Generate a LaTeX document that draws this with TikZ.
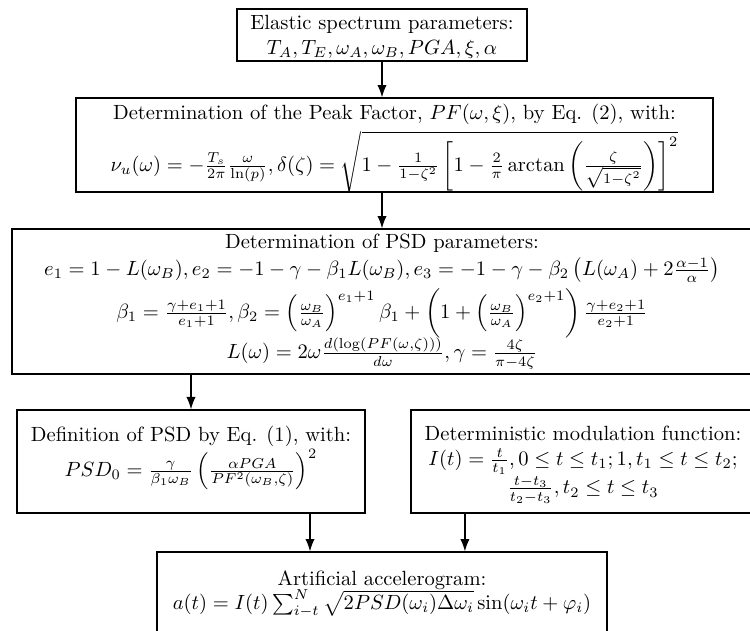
\documentclass[tikz,border=0pt]{standalone}
\usepackage{amsmath,amssymb}
\usetikzlibrary{positioning,arrows.meta}

\begin{document}
\begin{tikzpicture}[>={Latex[length=6pt,width=4.5pt]}, x=0.486pt, y=-0.486pt,
    stage/.style={draw, semithick, inner sep=0pt},
    stagetxt/.style={align=center, inner sep=0pt}]
  \clip (0,0) rectangle (750,630);
  \node[stage, minimum width=140.9pt, minimum height=25.3pt] (elastic) at (382,35) {};
  \node[stagetxt, yshift=-1pt] (elastictxt) at (elastic) {Elastic spectrum parameters:\\ $T_A, T_E, \omega_A, \omega_B, PGA, \xi, \alpha$};
  \node[stage, minimum width=309.6pt, minimum height=45.7pt] (peak) at (394.5,145) {};
  \node[stagetxt, yshift=-2pt] (peaktxt) at (peak) {Determination of the Peak Factor, $PF(\omega,\xi)$, by Eq. (2), with:\\[2pt]
    $\nu_u(\omega) = -\frac{T_s}{2\pi}\frac{\omega}{\ln(p)}, \delta(\zeta) = \sqrt{1-\frac{1}{1-\zeta^2}\left[1-\frac{2}{\pi}\arctan\left(\frac{\zeta}{\sqrt{1-\zeta^2}}\right)\right]^2}$};
  \node[stage, minimum width=359.6pt, minimum height=70.5pt] (psdpar) at (382,301.5) {};
  \node[stagetxt, yshift=0pt] (psdpartxt) at (psdpar) {Determination of PSD parameters:\\[1pt]
    $e_1 = 1-L(\omega_B), e_2 = -1-\gamma-\beta_1 L(\omega_B), e_3 = -1-\gamma-\beta_2\left(L(\omega_A)+2\frac{\alpha-1}{\alpha}\right)$\\[2pt]
    $\beta_1 = \frac{\gamma+e_1+1}{e_1+1}, \beta_2 = \left(\frac{\omega_B}{\omega_A}\right)^{e_1+1}\beta_1 + \left(1+\left(\frac{\omega_B}{\omega_A}\right)^{e_2+1}\right)\frac{\gamma+e_2+1}{e_2+1}$\\[-1pt]
    $L(\omega) = 2\omega\frac{d(\log(PF(\omega,\zeta)))}{d\omega}, \gamma = \frac{4\zeta}{\pi-4\zeta}$};
  \node[stage, minimum width=169.1pt, minimum height=50.1pt] (psddef) at (191,461.5) {};
  \node[stagetxt, below=8pt of psddef.north] (psddeftxt) {Definition of PSD by Eq. (1), with:\\
    $PSD_0 = \frac{\gamma}{\beta_1\omega_B}\left(\frac{\alpha PGA}{PF^2(\omega_B,\zeta)}\right)^2$};
  \node[stage, minimum width=167.2pt, minimum height=50.1pt] (modul) at (583,461.5) {};
  \node[stagetxt, below=8pt of modul.north] (modultxt) {Deterministic modulation function:\\
    $I(t) = \frac{t}{t_1}, 0\leq t\leq t_1; 1, t_1\leq t\leq t_2;$\\
    $\frac{t-t_3}{t_2-t_3}, t_2\leq t\leq t_3$};
  \node[stage, minimum width=218.7pt, minimum height=52.5pt] (accel) at (382,606) {};
  \node[stagetxt, below=9pt of accel.north] (acceltxt) {Artificial accelerogram:\\
    $a(t) = I(t)\sum_{i-t}^{N}\sqrt{2PSD(\omega_i)\Delta\omega_i}\sin(\omega_i t+\varphi_i)$};
  \coordinate (in1) at ([xshift=-35pt]accel.north);
  \coordinate (in2) at ([xshift=40.3pt]accel.north);
  \draw[semithick,->] (elastic.south) -- (elastic.south |- peak.north);
  \draw[semithick,->] (elastic.south |- peak.south) -- (elastic.south |- psdpar.north);
  \draw[semithick,->] (psdpar.south -| psddef.north) -- (psddef.north);
  \draw[semithick,->] (in1 |- psddef.south) -- (in1);
  \draw[semithick,->] (in2 |- modul.south) -- (in2);
\end{tikzpicture}
\end{document}
